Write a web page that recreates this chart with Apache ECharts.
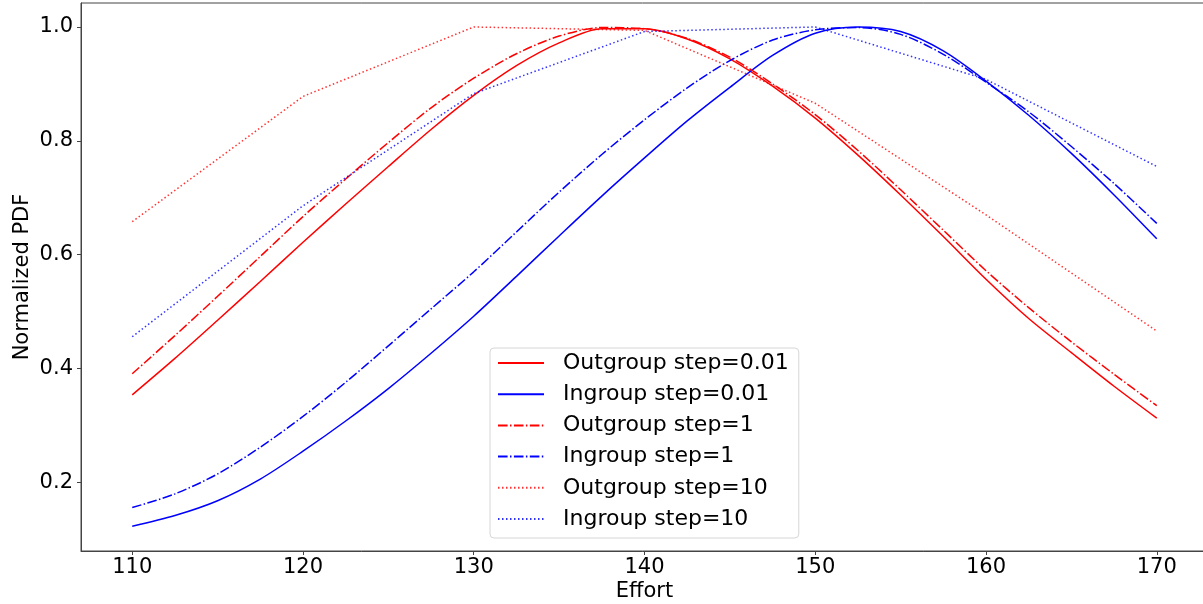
<!DOCTYPE html>
<html>
<head>
<meta charset="utf-8">
<script src="https://cdn.jsdelivr.net/npm/echarts@6/dist/echarts.min.js"></script>
<style>
html,body{margin:0;padding:0;background:#fff;}
#chart{width:1203px;height:604px;}
</style>
</head>
<body>
<div id="chart"></div>
<script>
// ---- data ----
const xTicks = [110, 120, 130, 140, 150, 160, 170];
const yTicks = [0.2, 0.4, 0.6, 0.8, 1.0];

// effort values where the smooth curves were read (every 2.5)
const effortFine = [110, 112.5, 115, 117.5, 120, 122.5, 125, 127.5, 130, 132.5, 135, 137.5, 140,
                    142.5, 145, 147.5, 150, 152.5, 155, 157.5, 160, 162.5, 165, 167.5, 170];

const outStep001Y = [0.354, 0.418, 0.485, 0.553, 0.622, 0.689, 0.755, 0.820, 0.880, 0.932, 0.972, 0.997, 0.997,
                     0.979, 0.944, 0.896, 0.840, 0.775, 0.705, 0.632, 0.557, 0.488, 0.428, 0.369, 0.313];

const inStep001Y = [0.123, 0.142, 0.168, 0.206, 0.255, 0.308, 0.365, 0.427, 0.492, 0.562, 0.633, 0.703, 0.770,
                    0.835, 0.894, 0.950, 0.989, 1.0, 0.992, 0.958, 0.905, 0.845, 0.778, 0.705, 0.628];

const outStep1Y = [0.391, 0.458, 0.527, 0.597, 0.667, 0.733, 0.797, 0.858, 0.910, 0.953, 0.984, 0.999, 0.997,
                   0.980, 0.947, 0.900, 0.846, 0.783, 0.714, 0.643, 0.572, 0.507, 0.447, 0.390, 0.335];

const inStep1Y = [0.156, 0.180, 0.215, 0.262, 0.316, 0.376, 0.440, 0.505, 0.570, 0.640, 0.710, 0.776, 0.837,
                  0.893, 0.941, 0.977, 0.995, 0.999, 0.987, 0.952, 0.903, 0.851, 0.790, 0.725, 0.655];

const effortCoarse = [110, 120, 130, 140, 150, 160, 170];
const outStep10Y = [0.658, 0.878, 1.0, 0.994, 0.866, 0.670, 0.466];
const inStep10Y = [0.456, 0.686, 0.883, 0.992, 1.0, 0.908, 0.755];

const seriesNames = ['Outgroup step=0.01', 'Ingroup step=0.01', 'Outgroup step=1', 'Ingroup step=1', 'Outgroup step=10', 'Ingroup step=10'];

// ---- build ----
function pairs(xs, ys) { return xs.map((x, i) => [x, ys[i]]); }
const RED = '#ff0000', BLUE = '#0000ff';
const DASHDOT = [9.6, 2.4, 1.5, 2.4];
const DOTTED = [1.5, 2.5];
const FONT = 'DejaVu Sans';

function mk(name, data, color, type, smooth, opacity) {
  return {
    name: name, type: 'line', data: data, smooth: smooth ? 0.3 : false,
    symbol: 'none', showSymbol: false,
    color: color,
    lineStyle: { color: color, width: 1.5, type: type, opacity: opacity },
    emphasis: { disabled: true }, animation: false
  };
}

const chart = echarts.init(document.getElementById('chart'), null, { renderer: 'canvas' });
chart.setOption({
  animation: false,
  backgroundColor: '#ffffff',
  grid: { left: 81, top: 3, width: 1127, height: 548, show: true, borderColor: '#444', borderWidth: 1,
          backgroundColor: 'transparent', containLabel: false, outerBoundsMode: 'none' },
  xAxis: {
    type: 'value', min: 107, max: 173,
    name: 'Effort', nameLocation: 'middle', nameGap: 30, nameMoveOverlap: false,
    nameTextStyle: { fontFamily: FONT, fontSize: 21, color: '#000' },
    axisLine: { show: true, lineStyle: { color: '#444', width: 1 } },
    axisTick: { show: true, inside: false, length: 4, lineStyle: { color: '#444' }, customValues: xTicks },
    axisLabel: { fontFamily: FONT, fontSize: 21, color: '#000', margin: 6, customValues: xTicks, formatter: v => String(v) },
    splitLine: { show: false }
  },
  yAxis: {
    type: 'value', min: 0.0797, max: 1.0421,
    name: 'Normalized PDF', nameLocation: 'middle', nameGap: 48, nameMoveOverlap: false,
    nameTextStyle: { fontFamily: FONT, fontSize: 21, color: '#000' },
    axisLine: { show: true, lineStyle: { color: '#444', width: 1 } },
    axisTick: { show: true, inside: false, length: 4, lineStyle: { color: '#444' }, customValues: yTicks },
    axisLabel: { fontFamily: FONT, fontSize: 21, color: '#000', margin: 8, customValues: yTicks, formatter: v => v.toFixed(1) },
    splitLine: { show: false }
  },
  legend: {
    orient: 'vertical', left: 490, top: 348,
    padding: [4, 10, 8, 7],
    itemWidth: 46, itemHeight: 14, itemGap: 9.2,
    itemStyle: { opacity: 0 },
    backgroundColor: 'rgba(255,255,255,0.8)', borderColor: '#d6d6d6', borderWidth: 1, borderRadius: 4,
    textStyle: { fontFamily: FONT, fontSize: 22, color: '#000', lineHeight: 22, padding: [0, 0, 0, 14] },
    data: seriesNames,
    selectedMode: false
  },
  series: [
    mk(seriesNames[0], pairs(effortFine, outStep001Y), RED, 'solid', true, 1),
    mk(seriesNames[1], pairs(effortFine, inStep001Y), BLUE, 'solid', true, 1),
    mk(seriesNames[2], pairs(effortFine, outStep1Y), RED, DASHDOT, true, 1),
    mk(seriesNames[3], pairs(effortFine, inStep1Y), BLUE, DASHDOT, true, 1),
    mk(seriesNames[4], pairs(effortCoarse, outStep10Y), RED, DOTTED, false, 0.8),
    mk(seriesNames[5], pairs(effortCoarse, inStep10Y), BLUE, DOTTED, false, 0.8)
  ]
});
</script>
</body>
</html>
